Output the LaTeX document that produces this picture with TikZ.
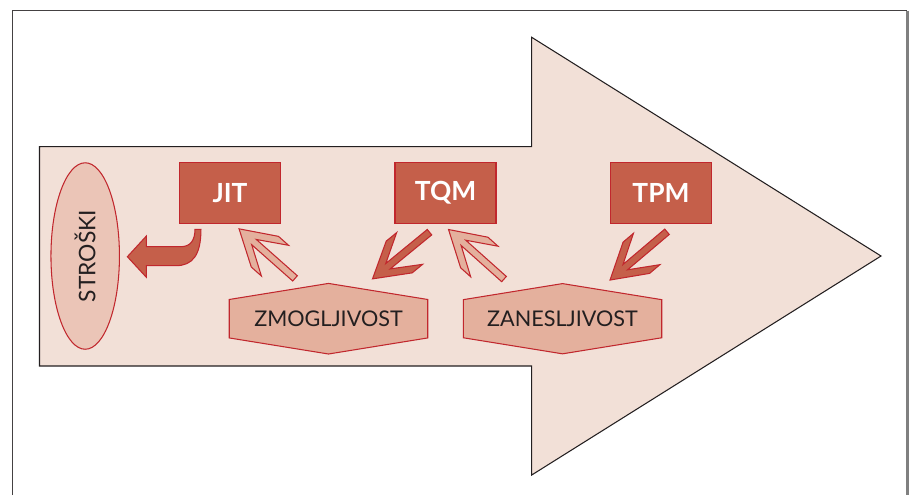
\documentclass[tikz,border=0pt]{standalone}
\usepackage{fontspec}
\setmainfont{Lato}
\usetikzlibrary{shapes.geometric, shapes.symbols, calc}
\definecolor{arrowBeige}{HTML}{F2E0D7}
\definecolor{boxRed}{HTML}{C55F4A}
\definecolor{edgeRed}{HTML}{C1272D}
\definecolor{hexPink}{HTML}{E4B09D}
\definecolor{ovalPink}{HTML}{EBC5B7}
\definecolor{inkDark}{HTML}{231F20}

\tikzset{
  methodbox/.style={rectangle, draw=edgeRed, fill=boxRed, line width=0.6pt,
    minimum width=2.02cm, minimum height=1.21cm, inner sep=0pt,
    text=white, font=\fontsize{15}{17}\selectfont\bfseries},
  trait/.style={signal, signal to=north and south, signal pointer angle=161.6,
    draw=edgeRed, fill=hexPink, line width=0.6pt,
    minimum width=3.97cm, minimum height=1.25cm, inner sep=0pt,
    text=inkDark, font=\fontsize{12.3}{14}\selectfont},
  darkchev/.style={draw=edgeRed, fill=boxRed, line width=0.6pt},
  lightchev/.style={draw=edgeRed, fill=hexPink, line width=0.6pt},
}

% block arrow with swept-back barbs, from #1 (tail) to #2 (tip)
\newcommand{\chevarrow}[3]{%
  \path let \p1=($(#2)-(#1)$),
            \n1={scalar(atan2(\y1,\x1))},
            \n2={scalar(veclen(\x1,\y1)/0.569055)} in
    \pgfextra{\xdef\chevangle{\n1}\xdef\chevlength{\n2}};
  \begin{scope}[shift={(#1)}, rotate=\chevangle]
    \filldraw[#3] (0,-3.5) -- (\chevlength-20,-3.5) -- (\chevlength-48,-20.5)
      -- (\chevlength-34.5,-20.5) -- (\chevlength,0) -- (\chevlength-34.5,20.5)
      -- (\chevlength-48,20.5) -- (\chevlength-20,3.5) -- (0,3.5) -- cycle;
  \end{scope}}

\begin{document}
\begin{tikzpicture}[x=0.02cm, y=-0.02cm]
    \useasboundingbox (0,0) rectangle (911,495);

    % frame
    \draw[line width=0.7pt, inkDark!85] (12.7,495) -- (12.7,10.7) -- (907.3,10.7);
    \draw[line width=1.6pt, gray] (907.3,10.7) -- (907.3,495);

    % big arrow
    \filldraw[fill=arrowBeige, draw=inkDark, line width=0.6pt]
        (39.5,146.7) -- (531.7,146.7) -- (531.7,37.3) -- (881,256)
        -- (531.7,475) -- (531.7,366) -- (39.5,366) -- cycle;

    % costs
    \node[ellipse, draw=edgeRed, fill=ovalPink, line width=0.6pt,
          minimum width=1.37cm, minimum height=3.73cm, inner sep=0pt]
          (strk) at (85.2,256) {};
    \node[rotate=90, text=inkDark, font=\fontsize{13}{15}\selectfont]
          at (strk.center) {STROŠKI};

    % methods
    \node[methodbox] (jit) at (230,193) {JIT};
    \node[methodbox] (tqm) at (445.5,193) {TQM};
    \node[methodbox] (tpm) at (661,193) {TPM};

    % traits
    \node[trait] (zmog)  at (328.5,318.7) {ZMOGLJIVOST};
    \node[trait] (zanes) at (562.5,318.7) {ZANESLJIVOST};

    % arrow ends
    \coordinate (z1) at ($(zmog.north)+(-33.5,-4.5)$);
    \coordinate (j1) at ($(jit.south)+(9,5)$);
    \coordinate (z2) at ($(zanes.north)+(-58.5,-4)$);
    \coordinate (q1) at ($(tqm.south)+(3,5.7)$);
    \coordinate (q2) at ($(tqm.south)+(-16,8.4)$);
    \coordinate (z3) at ($(zmog.north)+(44,-4)$);
    \coordinate (p1) at ($(tpm.south)+(6,8)$);
    \coordinate (z4) at ($(zanes.north)+(47.5,-3)$);
    \coordinate (hookend) at ($(strk.east)+(7.4,0.7)$);

    \chevarrow{z1}{j1}{lightchev}
    \chevarrow{z2}{q1}{lightchev}
    \chevarrow{q2}{z3}{darkchev}
    \chevarrow{p1}{z4}{darkchev}

    % JIT lowers costs
    \begin{scope}[shift={(hookend)}]
        \filldraw[darkchev] (0,0) -- (19,-20.7) -- (19,-10) -- (53.3,-10)
            .. controls (63.3,-10) and (67.6,-16.7) .. (67.6,-27.4)
            -- (73.6,-27.4)
            .. controls (73.6,-1.7) and (65.3,9) .. (48.3,9)
            -- (19,9) -- (19,20.6) -- cycle;
    \end{scope}
\end{tikzpicture}
\end{document}
